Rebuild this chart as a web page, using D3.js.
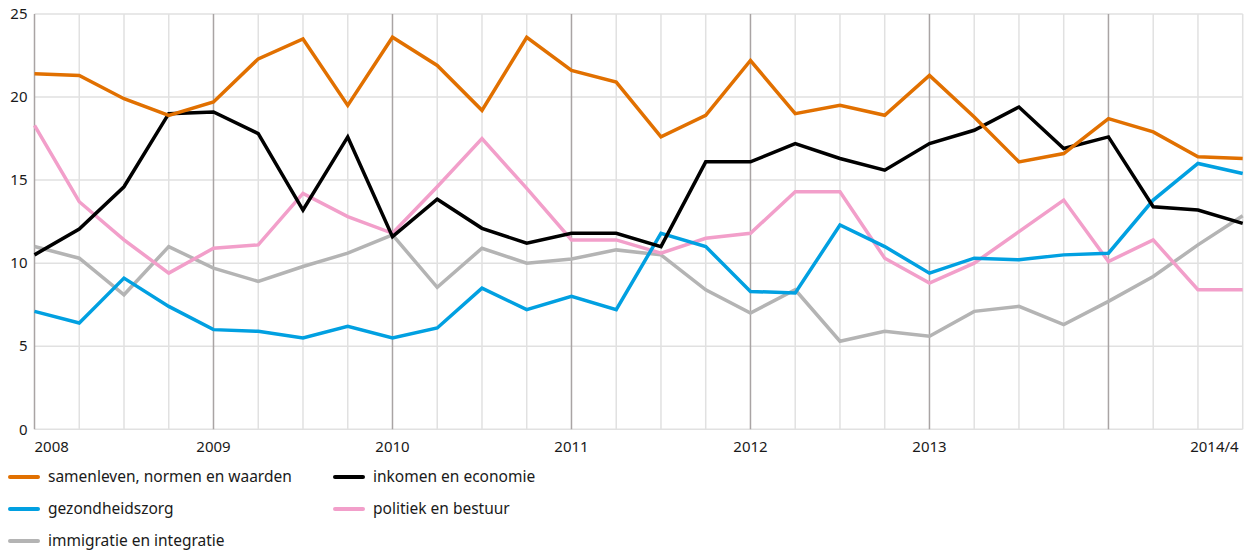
<!DOCTYPE html>
<html lang="nl">
<head>
  <meta charset="utf-8">
  <title>Zorgen over de samenleving</title>
  <script src="https://d3js.org/d3.v7.min.js"></script>
  <style>
    body { margin: 0; background: #fff; }
    #chart text { font-family: "Noto Sans", "Open Sans", sans-serif; fill: #1a1a1a; }
  </style>
</head>
<body>
  <div id="chart"></div>

  <script>
    "use strict"

    // kwartalen 2008/1 t/m 2014/4
    var kwartalen = d3.range(28);
    var jaarLabels = [
      {i: 0, tekst: "2008", anker: "start"},
      {i: 4, tekst: "2009", anker: "middle"},
      {i: 8, tekst: "2010", anker: "middle"},
      {i: 12, tekst: "2011", anker: "middle"},
      {i: 16, tekst: "2012", anker: "middle"},
      {i: 20, tekst: "2013", anker: "middle"},
      {i: 27, tekst: "2014/4", anker: "end"}
    ];
    var jaarGrenzen = [4, 8, 12, 16, 20, 24];
    var yTicks = [0, 5, 10, 15, 20, 25];

    var samenleven = [21.4, 21.3, 19.9, 18.9, 19.7, 22.3, 23.5, 19.5, 23.6, 21.9, 19.2, 23.6, 21.6, 20.9,
                      17.6, 18.9, 22.2, 19.0, 19.5, 18.9, 21.3, 18.8, 16.1, 16.6, 18.7, 17.9, 16.4, 16.3];
    var inkomen = [10.5, 12.05, 14.6, 19.0, 19.1, 17.8, 13.2, 17.6, 11.6, 13.85, 12.1, 11.2, 11.8, 11.8,
                   11.0, 16.1, 16.1, 17.2, 16.3, 15.6, 17.2, 18.0, 19.4, 16.9, 17.6, 13.4, 13.2, 12.4];
    var gezondheid = [7.1, 6.4, 9.1, 7.4, 6.0, 5.9, 5.5, 6.2, 5.5, 6.1, 8.5, 7.2, 8.0, 7.2,
                      11.8, 11.0, 8.3, 8.2, 12.3, 11.0, 9.4, 10.3, 10.2, 10.5, 10.6, 13.8, 16.0, 15.4];
    var politiek = [18.3, 13.7, 11.4, 9.4, 10.9, 11.1, 14.2, 12.8, 11.8, 14.6, 17.5, 14.5, 11.4, 11.4,
                    10.6, 11.5, 11.8, 14.3, 14.3, 10.3, 8.8, 10.0, 11.9, 13.8, 10.1, 11.4, 8.4, 8.4];
    var immigratie = [11.0, 10.3, 8.1, 11.0, 9.7, 8.9, 9.8, 10.6, 11.7, 8.55, 10.9, 10.0, 10.25, 10.8,
                      10.5, 8.4, 7.0, 8.4, 5.3, 5.9, 5.6, 7.1, 7.4, 6.3, 7.7, 9.2, 11.1, 12.85];

    var reeksen = [
      {naam: "samenleven, normen en waarden", kleur: "#e17000", waarden: samenleven},
      {naam: "inkomen en economie", kleur: "#000000", waarden: inkomen},
      {naam: "gezondheidszorg", kleur: "#01a0e1", waarden: gezondheid},
      {naam: "politiek en bestuur", kleur: "#f29fca", waarden: politiek},
      {naam: "immigratie en integratie", kleur: "#b4b4b4", waarden: immigratie}
    ];
    // tekenvolgorde (onderste eerst)
    var tekenVolgorde = [4, 3, 2, 1, 0];

    var larguraSVG = 1253, alturaSVG = 551;
    var margin = {top: 14, right: 10, bottom: 122, left: 34.5};
    var larguraVis = 1242.7 - margin.left,
        alturaVis = 429.3 - margin.top;

    var svg = d3.select("#chart").append("svg")
        .attr("width", larguraSVG)
        .attr("height", alturaSVG);

    var grafico = svg.append("g")
        .attr("transform", "translate(" + margin.left + "," + margin.top + ")");

    var x = d3.scaleLinear().domain([0, 27]).range([0, larguraVis]);
    var y = d3.scaleLinear().domain([0, 25]).range([alturaVis, 0]);

    // rasterlijnen
    grafico.append("g").selectAll("line.h")
      .data(yTicks)
      .join("line")
        .attr("x1", 0).attr("x2", larguraVis)
        .attr("y1", d => y(d)).attr("y2", d => y(d))
        .attr("stroke", "#e1e1e1").attr("stroke-width", 1.5);

    grafico.append("g").selectAll("line.v")
      .data(kwartalen)
      .join("line")
        .attr("x1", d => x(d)).attr("x2", d => x(d))
        .attr("y1", 0).attr("y2", alturaVis)
        .attr("stroke", d => (d === 0 || jaarGrenzen.indexOf(d) >= 0) ? "#a9a4a4" : "#e1e1e1")
        .attr("stroke-width", 1.5);

    // y-as labels
    grafico.append("g").selectAll("text")
      .data(yTicks)
      .join("text")
        .attr("x", -7)
        .attr("y", d => y(d))
        .attr("dy", "0.35em")
        .attr("text-anchor", "end")
        .style("font-size", "15px")
        .text(d => d);

    // x-as labels
    grafico.append("g").selectAll("text")
      .data(jaarLabels)
      .join("text")
        .attr("x", d => x(d.i) + (d.anker === "end" ? -4 : 0))
        .attr("y", alturaVis + 23)
        .attr("text-anchor", d => d.anker)
        .style("font-size", "15px")
        .text(d => d.tekst);

    // lijnen
    var lijn = d3.line()
        .x((d, i) => x(i))
        .y(d => y(d));

    grafico.append("g").selectAll("path")
      .data(tekenVolgorde.map(i => reeksen[i]))
      .join("path")
        .attr("d", d => lijn(d.waarden))
        .attr("fill", "none")
        .attr("stroke", d => d.kleur)
        .attr("stroke-width", 3.5)
        .attr("stroke-linejoin", "miter");

    // legenda
    var legendaPos = [
      {x: 10, y: 477}, {x: 335, y: 477},
      {x: 10, y: 509}, {x: 335, y: 509},
      {x: 10, y: 541}
    ];
    var legenda = svg.append("g").selectAll("g")
      .data(reeksen)
      .join("g")
        .attr("transform", (d, i) => "translate(" + legendaPos[i].x + "," + legendaPos[i].y + ")");

    legenda.append("line")
      .attr("x1", 0).attr("x2", 28)
      .attr("y1", 0).attr("y2", 0)
      .attr("stroke", d => d.kleur)
      .attr("stroke-width", 4)
      .attr("stroke-linecap", "round");

    legenda.append("text")
      .attr("x", 38)
      .attr("dy", "0.35em")
      .style("font-size", "15.5px")
      .text(d => d.naam);
  </script>
</body>
</html>
